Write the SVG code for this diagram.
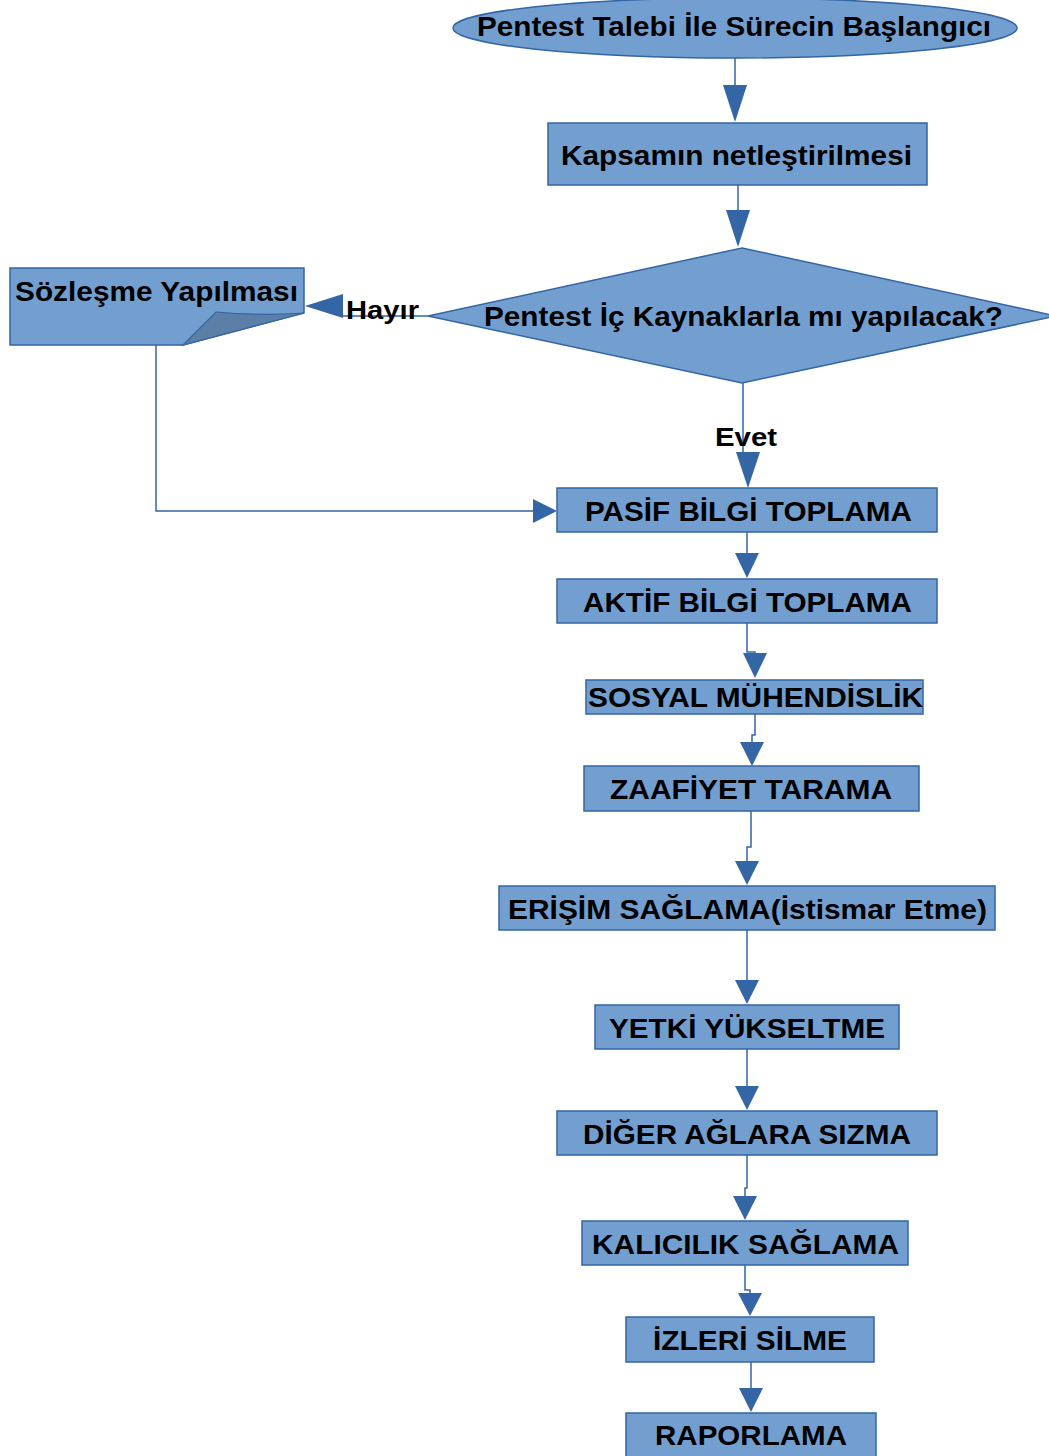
<svg xmlns="http://www.w3.org/2000/svg" width="1049" height="1456" viewBox="0 0 1049 1456">
<style>
.node{fill:#729fcf;stroke:#3465a4;stroke-width:1.5}
.fold{fill:#5b7fa6;stroke:#3465a4;stroke-width:1.2}
.edge{fill:none;stroke:#3465a4;stroke-width:1.5}
.head{fill:#3465a4;stroke:none}
.t{font-family:"Liberation Sans",Arial,sans-serif;font-weight:bold;font-size:28px;fill:#000}
.lbl{font-family:"Liberation Sans",Arial,sans-serif;font-weight:bold;font-size:26px;fill:#000}
</style>
<rect width="1049" height="1456" fill="#ffffff"/>
<g id="connectors">
<path class="edge" d="M735,58 V86"/><polygon class="head" points="723,85 747,85 735,122"/>
<path class="edge" d="M738,185 V211"/><polygon class="head" points="726,210 750,210 738,247"/>
<path class="edge" d="M428,316 H343"/><polygon class="head" points="343,294 343,318 305,306"/>
<path class="edge" d="M156,345 V511 H534"/><polygon class="head" points="533,499 533,523 557,511"/>
<path class="edge" d="M743,383 V455 H748 V460"/><polygon class="head" points="736,452 760,452 748,488"/>
<path class="edge" d="M747,532 V554"/><polygon class="head" points="735,553 759,553 747,578"/>
<path class="edge" d="M747,623 V652 H755 V655"/><polygon class="head" points="743,653 767,653 755,678"/>
<path class="edge" d="M755,714 V735 H752 V745"/><polygon class="head" points="740,742 764,742 752,766"/>
<path class="edge" d="M751,811 V847 H747 V862"/><polygon class="head" points="735,861 759,861 747,885"/>
<path class="edge" d="M747,930 V981"/><polygon class="head" points="735,980 759,980 747,1004"/>
<path class="edge" d="M747,1049 V1087"/><polygon class="head" points="735,1086 759,1086 747,1110"/>
<path class="edge" d="M747,1155 V1188 H745 V1197"/><polygon class="head" points="733,1196 757,1196 745,1220"/>
<path class="edge" d="M745,1265 V1290 H750 V1294"/><polygon class="head" points="738,1293 762,1293 750,1316"/>
<path class="edge" d="M751,1362 V1389"/><polygon class="head" points="739,1388 763,1388 751,1412"/>
<text class="lbl" x="346" y="319" textLength="73" lengthAdjust="spacingAndGlyphs">Hayır</text>
<text class="lbl" x="715" y="446" textLength="62" lengthAdjust="spacingAndGlyphs">Evet</text>
</g>
<g id="start">
<ellipse class="node" cx="735" cy="28" rx="282" ry="30"/>
<text class="t" x="477" y="36" textLength="514" lengthAdjust="spacingAndGlyphs">Pentest Talebi İle Sürecin Başlangıcı</text>
</g>
<g id="kapsam">
<rect class="node" x="548" y="123" width="379" height="62"/>
<text class="t" x="561" y="165" textLength="351" lengthAdjust="spacingAndGlyphs">Kapsamın netleştirilmesi</text>
</g>
<g id="decision">
<polygon class="node" points="742,248 1056,316 742,383 428,316"/>
<text class="t" x="484" y="326" textLength="519" lengthAdjust="spacingAndGlyphs">Pentest İç Kaynaklarla mı yapılacak?</text>
</g>
<g id="sozlesme">
<path class="node" d="M10,268 H304 V313 L183,345 H10 Z"/>
<path class="fold" d="M183,345 L216,312 Q258,316 304,313 Z"/>
<text class="t" x="15" y="301" textLength="283" lengthAdjust="spacingAndGlyphs">Sözleşme Yapılması</text>
</g>
<g id="pasif">
<rect class="node" x="557" y="488" width="380" height="44"/>
<text class="t" x="585" y="520.5" textLength="327" lengthAdjust="spacingAndGlyphs">PASİF BİLGİ TOPLAMA</text>
</g>
<g id="aktif">
<rect class="node" x="557" y="579" width="380" height="44"/>
<text class="t" x="583" y="611.5" textLength="329" lengthAdjust="spacingAndGlyphs">AKTİF BİLGİ TOPLAMA</text>
</g>
<g id="sosyal">
<rect class="node" x="586" y="680" width="337" height="34"/>
<text class="t" x="588" y="707" textLength="335" lengthAdjust="spacingAndGlyphs">SOSYAL MÜHENDİSLİK</text>
</g>
<g id="zaafiyet">
<rect class="node" x="584" y="766" width="335" height="45"/>
<text class="t" x="610" y="799" textLength="282" lengthAdjust="spacingAndGlyphs">ZAAFİYET TARAMA</text>
</g>
<g id="erisim">
<rect class="node" x="499" y="886" width="496" height="44"/>
<text class="t" x="508" y="918.5" textLength="479" lengthAdjust="spacingAndGlyphs">ERİŞİM SAĞLAMA(İstismar Etme)</text>
</g>
<g id="yetki">
<rect class="node" x="595" y="1005" width="304" height="44"/>
<text class="t" x="609" y="1037.5" textLength="276" lengthAdjust="spacingAndGlyphs">YETKİ YÜKSELTME</text>
</g>
<g id="diger">
<rect class="node" x="557" y="1111" width="380" height="44"/>
<text class="t" x="583" y="1143.5" textLength="328" lengthAdjust="spacingAndGlyphs">DİĞER AĞLARA SIZMA</text>
</g>
<g id="kalicilik">
<rect class="node" x="582" y="1221" width="326" height="44"/>
<text class="t" x="592" y="1253.5" textLength="307" lengthAdjust="spacingAndGlyphs">KALICILIK SAĞLAMA</text>
</g>
<g id="izleri">
<rect class="node" x="626" y="1317" width="248" height="45"/>
<text class="t" x="653" y="1350" textLength="194" lengthAdjust="spacingAndGlyphs">İZLERİ SİLME</text>
</g>
<g id="raporlama">
<rect class="node" x="626" y="1413" width="250" height="50"/>
<text class="t" x="655" y="1445" textLength="192" lengthAdjust="spacingAndGlyphs">RAPORLAMA</text>
</g>
</svg>
